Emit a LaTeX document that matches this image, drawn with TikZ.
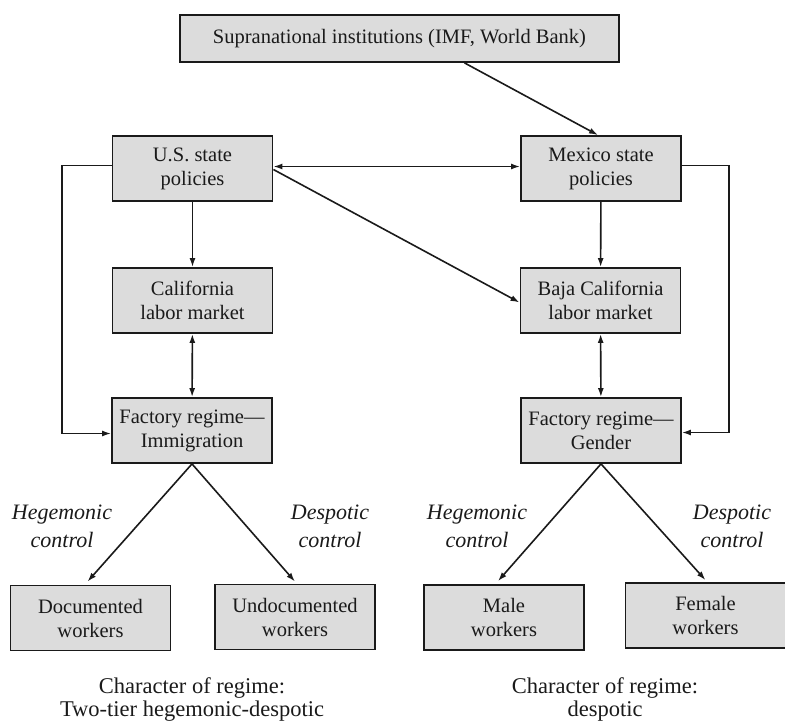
\documentclass[tikz,border=0pt]{standalone}
\usepackage{fontspec}
\setmainfont{Liberation Serif}
\usetikzlibrary{arrows.meta}
\definecolor{ink}{HTML}{1A1A1A}
\definecolor{boxfill}{HTML}{DCDCDC}
\tikzset{
  box/.style={draw=ink, fill=boxfill, line width=1.8pt, minimum width=160pt, minimum height=65pt, inner sep=2pt, align=center, text=ink, font=\fontsize{20.5}{24}\selectfont},
  link/.style={draw=ink, line width=1.6pt, -{Latex[length=9pt,width=6pt]}},
  both/.style={link, {Latex[length=9pt,width=6pt]}-{Latex[length=9pt,width=6pt]}},
  ctl/.style={text=ink, align=center, font=\fontsize{22}{28}\selectfont\itshape},
  note/.style={text=ink, align=center, font=\fontsize{22.5}{23}\selectfont},
}
\begin{document}
\begin{tikzpicture}[x=1pt,y=-1pt]
  \useasboundingbox (0,0) rectangle (785,723);
  \node[box, minimum width=439pt, minimum height=47pt] (supra) at (399.5,38.5) {Supranational institutions (IMF, World Bank)};
  \node[box] (usp) at (192.5,168.5) {U.S. state\\policies};
  \node[box] (mxp) at (601,168.5) {Mexico state\\policies};
  \node[box] (calm) at (192.5,300.5) {California\\labor market};
  \node[box] (bajam) at (600.5,300.5) {Baja California\\labor market};
  \node[box] (facim) at (192,430.5) {Factory regime---\\Immigration};
  \node[box] (facgen) at (601,430.5) {Factory regime---\\Gender};
  \node[box] (docw) at (90.5,618) {Documented\\workers};
  \node[box] (undw) at (295,617) {Undocumented\\workers};
  \node[box] (malew) at (504,617.5) {Male\\workers};
  \node[box] (femw) at (705.5,615.5) {Female\\workers};
  \coordinate (lbend) at (62,0);
  \coordinate (rbend) at (729,0);
  \draw[link] ([xshift=65pt]supra.south) -- ([xshift=-3pt]mxp.north);
  \draw[both] ([yshift=2pt]usp.east) -- ([yshift=2pt]mxp.west);
  \draw[link] ([yshift=-1pt]usp.east) -- ([yshift=-2pt]bajam.west);
  \draw[link] (usp) -- (calm);
  \draw[link] (mxp) -- (bajam);
  \draw[both] (calm) -- (facim);
  \draw[both] (bajam) -- (facgen);
  \draw[link] ([yshift=3pt]usp.west) -- ([yshift=3pt]usp.west -| lbend) |- ([yshift=-3pt]facim.west);
  \draw[link] ([yshift=3pt]mxp.east) -- ([yshift=3pt]mxp.east -| rbend) |- ([yshift=-2pt]facgen.east);
  \draw[link] (facim.south) -- ([xshift=-3pt,yshift=3pt]docw.north);
  \draw[link] (facim.south) -- ([yshift=2pt]undw.north);
  \draw[link] (facgen.south) -- ([xshift=-6pt,yshift=3pt]malew.north);
  \draw[link] (facgen.south) -- ([yshift=2pt]femw.north);
  \foreach \x/\txt in {62/Hegemonic, 330/Despotic, 477/Hegemonic, 732/Despotic}
    \node[ctl] (ctl\x) at (\x,526) {\txt\\control};
  \node[note] (charim) at (192,699) {Character of regime:\\Two-tier hegemonic-despotic};
  \node[note] (chargen) at (605,699) {Character of regime:\\despotic};
\end{tikzpicture}
\end{document}
